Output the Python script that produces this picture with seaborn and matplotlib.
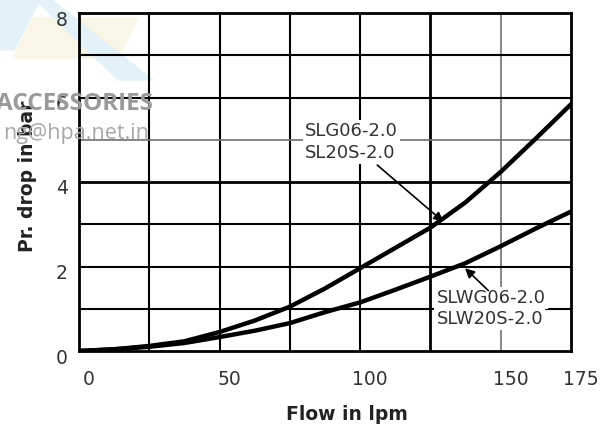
import pandas as pd
import matplotlib
matplotlib.use("Agg")
import matplotlib.pyplot as plt
import matplotlib.transforms as mtransforms
from matplotlib.patches import Polygon
import seaborn as sns

# data
flow = [0, 12.5, 25, 37.5, 50, 62.5, 75, 87.5, 100, 112.5, 125, 137.5, 150, 162.5, 175]
drop_slg = [0, 0.04, 0.12, 0.23, 0.45, 0.72, 1.05, 1.48, 1.96, 2.44, 2.92, 3.52, 4.24, 5.03, 5.84]
drop_slwg = [0, 0.04, 0.10, 0.19, 0.33, 0.48, 0.66, 0.92, 1.15, 1.45, 1.76, 2.08, 2.48, 2.90, 3.30]
series_names = ["SLG06-2.0", "SLWG06-2.0"]
x_ticks = [0, 50, 100, 150, 175]
y_ticks = [0, 2, 4, 6, 8]

df = pd.DataFrame({
    "flow": flow + flow,
    "drop": drop_slg + drop_slwg,
    "series": [series_names[0]] * len(flow) + [series_names[1]] * len(flow),
})

sns.set_theme(style="white")
plt.rcParams["font.family"] = ["DejaVu Sans"]

W, H = 614, 430
fig = plt.figure(figsize=(W / 100, H / 100), dpi=100)
fig.patch.set_facecolor("white")

# faint watermark shapes behind the plot (pixel coords -> figure fraction)
def px(points):
    return [(x / W, 1 - y / H) for x, y in points]

fig.patches.append(Polygon(px([(0, 0), (40, 0), (14, 50), (0, 50)]), closed=True,
                           transform=fig.transFigure, color="#e3f1f9", zorder=-2))
fig.patches.append(Polygon(px([(33, 18), (138, 18), (118, 58), (13, 58)]), closed=True,
                           transform=fig.transFigure, color="#f9f6e6", zorder=-2))
fig.patches.append(Polygon(px([(36, 0), (52, 0), (153, 80), (118, 80)]), closed=True,
                           transform=fig.transFigure, color="#e3f1f9", zorder=-2))

ax = fig.add_axes([79 / W, 79 / H, 492 / W, 338 / H])
ax.set_facecolor("none")

sns.lineplot(data=df, x="flow", y="drop", hue="series",
             palette=["black", "black"], linewidth=3.2, legend=False,
             ax=ax, zorder=4)

ax.set_xlim(0, 175)
ax.set_ylim(0, 8)

# grid
for v in [25, 50, 75, 100, 125, 150]:
    if v == 125:
        ax.axvline(v, color="black", lw=2.0, zorder=1)
    elif v == 150:
        ax.axvline(v, color="#707070", lw=1.2, zorder=1)
    else:
        ax.axvline(v, color="black", lw=1.5, zorder=1)
for v in [1, 2, 3, 4, 5, 6, 7]:
    if v == 4:
        ax.axhline(v, color="black", lw=2.0, zorder=1)
    elif v == 5:
        ax.axhline(v, color="#707070", lw=1.2, zorder=1)
    else:
        ax.axhline(v, color="black", lw=1.5, zorder=1)

for s in ax.spines.values():
    s.set_color("black")
    s.set_linewidth(2)

ax.set_xticks(x_ticks)
ax.set_yticks(y_ticks)
ax.tick_params(axis="both", length=0, labelsize=13.5, labelcolor="#333333")
ax.tick_params(axis="x", pad=14)
ax.tick_params(axis="y", pad=8)

shift_x = mtransforms.ScaledTranslation(10 / 100, 0, fig.dpi_scale_trans)
for lbl in ax.get_xticklabels():
    lbl.set_transform(lbl.get_transform() + shift_x)
shift_y = mtransforms.ScaledTranslation(0, -5 / 100, fig.dpi_scale_trans)
for lbl in ax.get_yticklabels():
    lbl.set_transform(lbl.get_transform() + shift_y)

ax.set_xlabel("Flow in lpm", fontsize=13.5, fontweight="bold", color="#222222")
ax.set_ylabel("Pr. drop in bar", fontsize=13.5, fontweight="bold", color="#222222")
ax.xaxis.set_label_coords(0.545, -0.16)
ax.yaxis.set_label_coords(-0.085, 0.518)

# curve labels
box = dict(facecolor="white", edgecolor="none", pad=1.5)
ax.text(80.4, 5.21, "SLG06-2.0", fontsize=13, color="#333333", va="center",
        ha="left", bbox=box, zorder=3)
ax.text(80.4, 4.68, "SL20S-2.0", fontsize=13, color="#333333", va="center",
        ha="left", bbox=box, zorder=3)
ax.annotate("", xy=(129.6, 3.06), xytext=(106.1, 4.40),
            arrowprops=dict(arrowstyle="-|>", color="black", lw=1.2,
                            mutation_scale=14, shrinkA=0, shrinkB=0), zorder=5)

ax.text(127.2, 1.26, "SLWG06-2.0", fontsize=13, color="#333333", va="center",
        ha="left", bbox=box, zorder=3)
ax.text(127.2, 0.76, "SLW20S-2.0", fontsize=13, color="#333333", va="center",
        ha="left", bbox=box, zorder=3)
ax.annotate("", xy=(137.3, 1.96), xytext=(145.6, 1.43),
            arrowprops=dict(arrowstyle="-|>", color="black", lw=1.2,
                            mutation_scale=14, shrinkA=0, shrinkB=0), zorder=5)

# watermark text (cut off at the left edge, as in the source)
fig.text(153 / W, 1 - 110 / H, "ACCESSORIES", fontsize=17.5, fontweight="bold",
         color="#9a9a9a", ha="right", va="baseline", family=["Open Sans", "DejaVu Sans"],
         zorder=6)
fig.text(149 / W, 1 - 139 / H, "ng@hpa.net.in", fontsize=15.5, color="#a8a8a8",
         ha="right", va="baseline", family=["Open Sans", "DejaVu Sans"], zorder=6)

fig.savefig("out.png", dpi=100)
